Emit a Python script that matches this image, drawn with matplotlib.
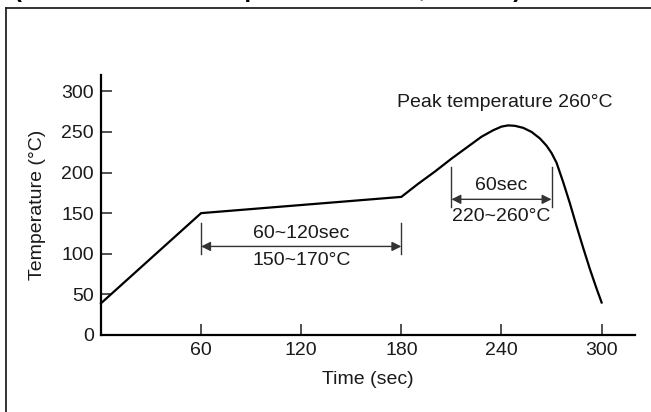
#reflow soldering profile, temperature vs time
import matplotlib.pyplot as plt
from matplotlib.lines import Line2D

plt.rcParams['font.family'] = ['Liberation Sans', 'DejaVu Sans']

# profile (sec, degC)
time_sec = [0, 60, 180, 190, 200, 210, 220, 228, 235, 240, 244, 248, 253, 258, 263, 267, 270, 273, 277, 281, 285, 289, 293, 297, 300]
temperature = [39, 150, 170, 186, 201, 217, 232, 244, 252, 256.5, 258, 257.5, 255, 250, 242, 233, 224, 212, 188, 162, 134, 107, 81, 57, 40]

x_ticks = [60, 120, 180, 240, 300]
y_ticks = [0, 50, 100, 150, 200, 250, 300]

# brackets: (start, end, arrow level, vertical line bottom, top)
preheat = (60, 180, 109, 100, 138)
reflow = (210, 270, 167, 158, 207)

fig = plt.figure(figsize=(6.51, 4.12), dpi=100)
ax = fig.add_axes([0.1551, 0.1869, 0.8203, 0.631])

ax.plot(time_sec, temperature, color='black', lw=1.6, solid_joinstyle='round', clip_on=False)

ax.set_xlim(0, 320)
ax.set_ylim(0, 320)
ax.set_xticks(x_ticks)
ax.set_yticks(y_ticks)
ax.tick_params(direction='in', length=8, width=1.1, labelsize=14, pad=5, color='#222222', labelcolor='#1a1a1a')
ax.spines['top'].set_visible(False)
ax.spines['right'].set_visible(False)
ax.spines['left'].set_linewidth(1.6)
ax.spines['bottom'].set_linewidth(1.6)
ax.set_xlabel('Time (sec)', fontsize=14, labelpad=9, color='#1a1a1a')
ax.set_ylabel('Temperature (°C)', fontsize=14, labelpad=11, color='#1a1a1a')

for b in [preheat, reflow]:
    x1, x2, lvl, lo, hi = b
    ax.plot([x1, x1], [lo, hi], color='#333333', lw=1)
    ax.plot([x2, x2], [lo, hi], color='#333333', lw=1)
    ax.annotate('', xy=(x1, lvl), xytext=(x2, lvl),
                arrowprops=dict(arrowstyle='<|-|>', color='#333333', lw=1, mutation_scale=14, shrinkA=0, shrinkB=0))

ax.text(120, 125, '60~120sec', fontsize=14, ha='center', va='center', color='#1a1a1a')
ax.text(120, 92, '150~170°C', fontsize=14, ha='center', va='center', color='#1a1a1a')
ax.text(240, 184, '60sec', fontsize=14, ha='center', va='center', color='#1a1a1a')
ax.text(240, 146, '220~260°C', fontsize=14, ha='center', va='center', color='#1a1a1a')
ax.text(242, 286, 'Peak temperature 260°C', fontsize=14, ha='center', va='center', color='#1a1a1a')

# frame round the figure, cut off at right and bottom like the scan
fig.add_artist(Line2D([6/651, 6/651], [0, 1 - 8/412], transform=fig.transFigure, color='#222222', lw=1.3))
fig.add_artist(Line2D([6/651, 1], [1 - 8/412, 1 - 8/412], transform=fig.transFigure, color='#222222', lw=1.3))

# heading of the section, only the descenders show at the top edge
fig.text(14/651, 1 + 3/412, '(Recommended Temperature Profile, Pb-free)', fontsize=17, fontweight='bold',
         ha='left', va='baseline')

fig.savefig('out.png', dpi=100)
